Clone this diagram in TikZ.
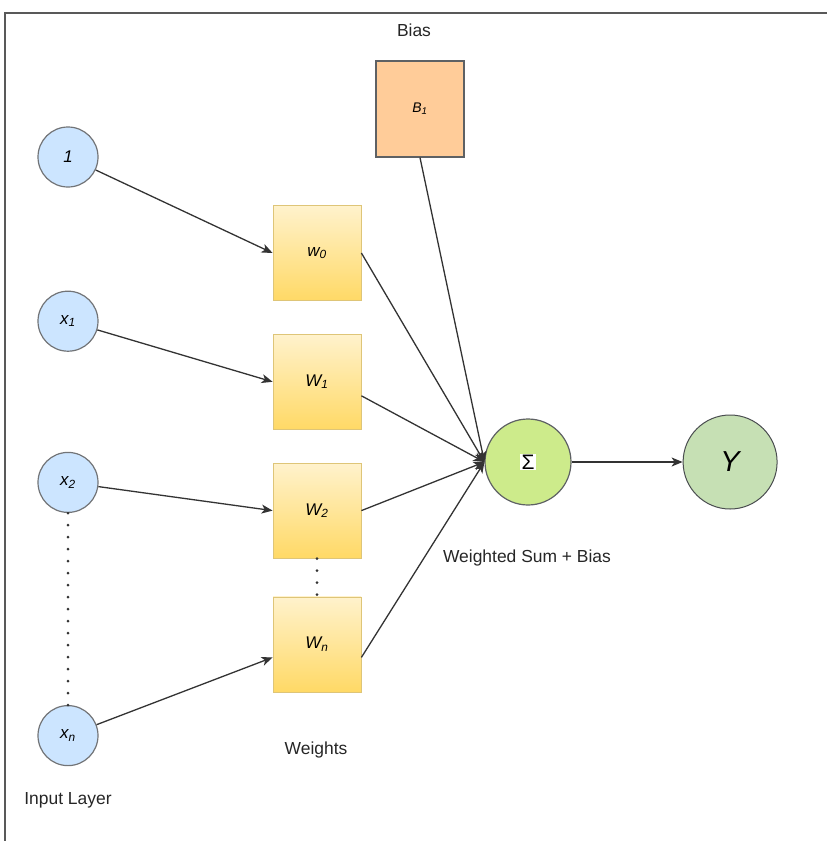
\documentclass[tikz,border=0pt]{standalone}
\usepackage{fontspec}
\setmainfont{Liberation Sans}
\usetikzlibrary{arrows.meta, positioning}

\definecolor{inblue}{HTML}{CCE5FF}
\definecolor{wtop}{HTML}{FFF2CC}
\definecolor{wbot}{HTML}{FFD966}
\definecolor{wline}{HTML}{D6B656}
\definecolor{biasorange}{HTML}{FFCC99}
\definecolor{sumgreen}{HTML}{CDEB8B}
\definecolor{outgreen}{HTML}{C6E0B4}
\definecolor{edge}{HTML}{36393D}
\setlength{\fboxsep}{1.2pt}

\begin{document}
\begin{tikzpicture}[
        x=1bp, y=-1bp,
        inputnode/.style={circle, draw=edge!70, fill=inblue, line width=1.2bp, minimum size=60bp, inner sep=0pt, font=\fontsize{17}{20}\selectfont\itshape},
        wbox/.style={rectangle, draw=wline!80, top color=wtop, bottom color=wbot, line width=0.8bp, minimum width=88bp, minimum height=95bp, inner sep=0pt, font=\fontsize{17}{20}\selectfont\itshape},
        biasbox/.style={rectangle, draw=edge!80, fill=biasorange, line width=1.2bp, minimum width=88bp, minimum height=96bp, inner sep=0pt, font=\fontsize{14}{17}\selectfont\itshape},
        sumnode/.style={circle, draw=edge!80, fill=sumgreen, line width=1.2bp, minimum size=86bp, inner sep=0pt, font=\fontsize{21}{24}\selectfont},
        outnode/.style={circle, draw=edge!90, fill=outgreen, line width=1bp, minimum size=94bp, inner sep=0pt, font=\fontsize{29}{32}\selectfont\itshape},
        lbl/.style={font=\fontsize{17.5}{20}\selectfont, text=black!85},
        arrow/.style={-{Stealth[length=11bp, width=9bp, inset=3bp]}, line width=1.3bp, draw=black!80},
        dotline/.style={dash pattern=on 0bp off 12bp, line cap=round, line width=3bp, draw=black!80}
    ]
        \useasboundingbox (0,0) rectangle (827,841);
        % frame
        \draw[line width=1.5bp, draw=black!65] (5,841) -- (5,13) -- (827,13);

        % input layer
        \node[inputnode] (in1) at (68,157) {1};
        \node[inputnode, below=103bp of in1] (x1) {x\textsubscript{1}};
        \node[inputnode, below=100bp of x1] (x2) {x\textsubscript{2}};
        \node[inputnode, below=192bp of x2] (xn) {x\textsubscript{n}};

        % weights
        \node[wbox] (w0) at (317,253) {w\textsubscript{0}};
        \node[wbox, below=33bp of w0] (w1) {W\textsubscript{1}};
        \node[wbox, below=33bp of w1] (w2) {W\textsubscript{2}};
        \node[wbox, below=38bp of w2] (wn) {W\textsubscript{n}};

        % bias, sum, output
        \node[biasbox] (b1) at (420,109) {B\textsubscript{1}};
        \node[sumnode] (sum) at (528,462) {\colorbox{white}{Σ}};
        \node[outnode, right=111bp of sum] (out) {Y};

        % labels
        \node[lbl] (biaslbl) at (414,30) {Bias};
        \node[lbl] (sumlbl) at (527,558) {Weighted Sum + Bias};
        \node[lbl] (wlbl) at (316,750) {Weights};
        \node[lbl] (inlbl) at (68,800) {Input Layer};

        \draw[dotline] (x2) -- (xn);
        \draw[dotline] (w2) -- (wn);

        \draw[arrow] (in1) -- (w0.west);
        \draw[arrow] (x1) -- (w1.west);
        \draw[arrow] (x2) -- (w2.west);
        \draw[arrow] (xn) -- ([yshift=-13bp]wn.west);

        \draw[arrow] (w0.east) -- (sum.west);
        \draw[arrow] ([yshift=-14bp]w1.east) -- (sum.west);
        \draw[arrow] (w2.east) -- (sum.west);
        \draw[arrow] ([yshift=-13bp]wn.east) -- (sum.west);
        \draw[arrow] (b1.south) -- (sum.west);
        \draw[arrow] (sum) -- (out);
    \end{tikzpicture}
\end{document}
